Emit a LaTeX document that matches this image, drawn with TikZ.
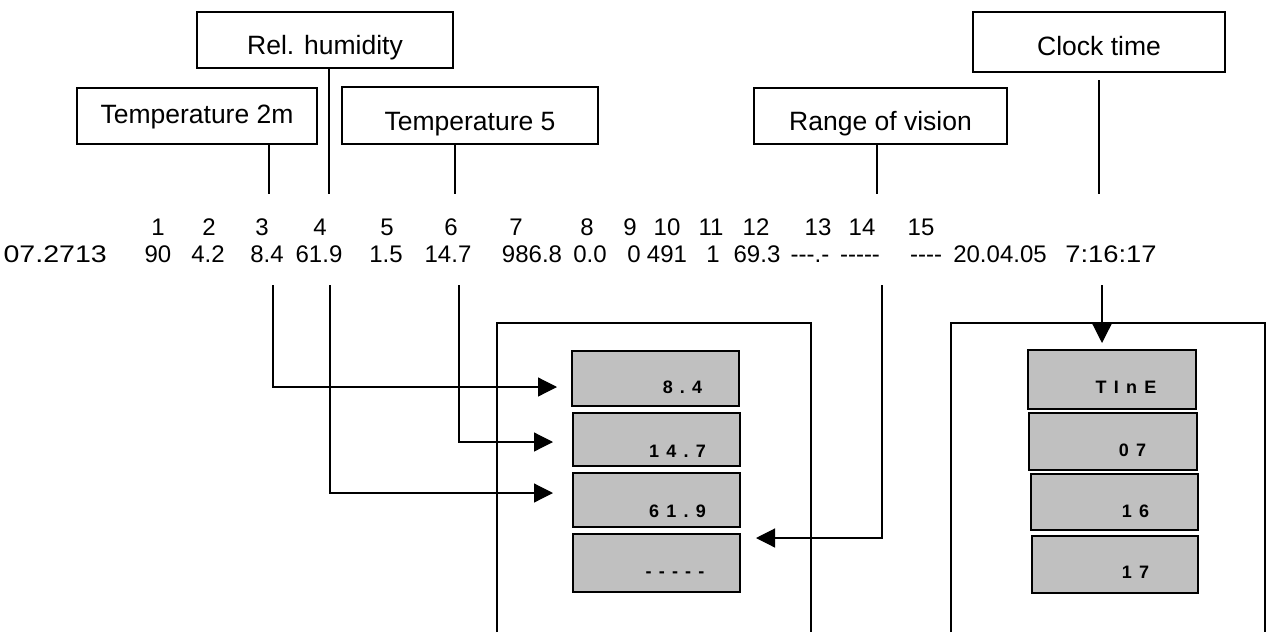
\documentclass[tikz,border=0pt]{standalone}
\usepackage{fontspec}
\setmainfont{Liberation Sans}
\newfontfamily\lcdfont{Liberation Sans}[LetterSpace=40]
\usetikzlibrary{arrows.meta}
\definecolor{cellgray}{HTML}{C0C0C0}
\begin{document}
\begin{tikzpicture}[x=1pt,y=-1pt,
  lbl/.style={draw, line width=1.2pt, inner sep=0pt, anchor=base, align=center,
              font=\fontsize{26.5}{30}\selectfont},
  txt/.style={inner sep=0pt, anchor=base, font=\fontsize{24}{28}\selectfont},
  cell/.style={draw, line width=1.8pt, fill=cellgray, inner sep=0pt},
  celltxt/.style={inner sep=0pt, anchor=base, font=\lcdfont\bfseries\fontsize{18}{21}\selectfont},
  conn/.style={line width=1.2pt},
  arr/.style={conn, -{Triangle[length=19pt,width=19pt]}},
  frame/.style={line width=1.4pt}]
\useasboundingbox (0,0) rectangle (1271,632);

% label boxes (placed by text baseline)
\node[lbl, minimum width=240pt, text height=35pt, text depth=21pt] (t2m) at (197,123) {Temperature 2m};
\node[lbl, minimum width=256pt, text height=42pt, text depth=14pt] (rh) at (325,54) {Rel. humidity};
\node[lbl, minimum width=256pt, text height=43pt, text depth=14pt] (t5) at (470,130) {Temperature 5};
\node[lbl, minimum width=253pt, text height=42pt, text depth=14pt] (rov) at (880.5,130) {Range of vision};
\node[lbl, minimum width=252pt, text height=43pt, text depth=17pt] (clk) at (1099,55) {Clock time};

% column numbers
\foreach \n/\x in {1/158,2/209,3/262,4/320,5/387,6/451,7/516,8/587,9/630,10/667,11/711,12/756,13/818,14/862,15/921}
  \node[txt] (n\n) at (\x,235) {\n};

% data row
\node[txt, anchor=base east] (d0) at (107,262) {\scalebox{1.19}[1]{07.2713}};
\node[txt] (d1) at (158,262) {90};
\node[txt] (d2) at (208,262) {4.2};
\node[txt] (d3) at (267,262) {8.4};
\node[txt] (d4) at (319,262) {61.9};
\node[txt] (d5) at (386,262) {1.5};
\node[txt] (d6) at (448,262) {14.7};
\node[txt] (d7) at (532,262) {986.8};
\node[txt] (d8) at (590,262) {0.0};
\node[txt] (d9) at (634,262) {0};
\node[txt] (d10) at (667,262) {491};
\node[txt] (d11) at (713,262) {1};
\node[txt] (d12) at (757,262) {69.3};
\node[txt] (d13) at (810,262) {-{}-{}-.-};
\node[txt] (d14) at (860,262) {-{}-{}-{}-{}-};
\node[txt] (d15) at (926,262) {-{}-{}-{}-};
\node[txt] (d16) at (1000,262) {20.04.05};
\node[txt] (d17) at (1111,262) {\scalebox{1.14}[1]{7:16:17}};

% frames (open at the bottom)
\draw[frame] (497,632) |- (811,323) -- (811,632);
\draw[frame] (951,632) |- (1265,323) -- (1265,632);

% left display cells
\node[cell, minimum width=167pt, minimum height=55pt] (l1) at (655.5,378.5) {};
\node[cell, minimum width=167pt, minimum height=53pt] (l2) at (656.5,439.5) {};
\node[cell, minimum width=167pt, minimum height=54pt] (l3) at (656.5,500) {};
\node[cell, minimum width=167pt, minimum height=58pt] (l4) at (656.5,563) {};
\node[celltxt] (l1t) at (682.5,393) {8.4};
\node[celltxt] (l2t) at (677.5,457) {14.7};
\node[celltxt] (l3t) at (677.5,517) {61.9};
\node[celltxt] (l4t) at (675,577) {-{}-{}-{}-{}-};

% right display cells
\node[cell, minimum width=168pt, minimum height=59pt] (r1) at (1112,379.5) {};
\node[cell, minimum width=168pt, minimum height=57pt] (r2) at (1113,441.5) {};
\node[cell, minimum width=167pt, minimum height=56pt] (r3) at (1114.5,502) {};
\node[cell, minimum width=166pt, minimum height=57pt] (r4) at (1115,564.5) {};
\node[celltxt] (r1t) at (1126,393) {TInE};
\node[celltxt] (r2t) at (1132.5,456) {07};
\node[celltxt] (r3t) at (1135.5,517) {16};
\node[celltxt] (r4t) at (1135.5,578) {17};

% upper connectors (label box -> column)
\coordinate (u1) at (269,194);
\coordinate (u2) at (329,194);
\coordinate (u3) at (455,194);
\coordinate (u4) at (877,194);
\coordinate (u5) at (1099,194);
\coordinate (u5top) at (1099,80);
\draw[conn] (t2m.south -| u1) -- (u1);
\draw[conn] (rh.south -| u2) -- (u2);
\draw[conn] (t5.south -| u3) -- (u3);
\draw[conn] (rov.south -| u4) -- (u4);
\draw[conn] (u5top) -- (u5);

% lower connectors (value -> display)
\coordinate (s1) at (273,285);
\coordinate (s2) at (330,285);
\coordinate (s3) at (459,285);
\coordinate (s4) at (882,285);
\coordinate (s5) at (1102,285);
\coordinate (e1) at (557,387);
\coordinate (e2) at (553,493);
\coordinate (e3) at (553,442);
\coordinate (e4) at (756,538);
\coordinate (e5) at (1102,343);
\draw[arr] (s1) |- (e1);
\draw[arr] (s2) |- (e2);
\draw[arr] (s3) |- (e3);
\draw[arr] (s4) |- (e4);
\draw[arr] (s5) -- (e5);
\end{tikzpicture}
\end{document}
